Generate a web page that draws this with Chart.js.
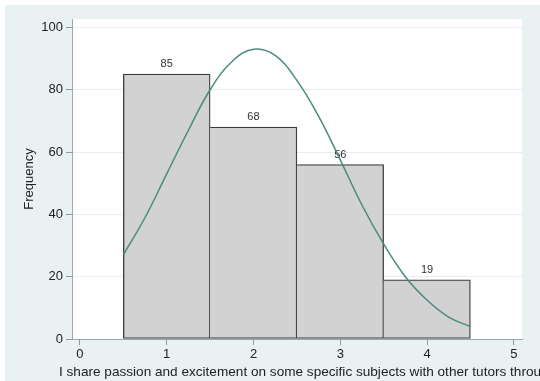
<!DOCTYPE html>
<html>
<head>
<meta charset="utf-8">
<script src="https://cdn.jsdelivr.net/npm/chart.js@4"></script>
<style>
  html, body { margin: 0; padding: 0; background: #ffffff; }
  #wrap { width: 540px; height: 381px; }
</style>
</head>
<body>
<div id="wrap"><canvas id="hist" width="540" height="381"></canvas></div>
<script>
// Response values (bin centres) and their counts
const scoreValues = [1, 2, 3, 4];
const frequencies = [85, 68, 56, 19];

// Fitted normal density, scaled to frequency
const curveX = [0.5, 0.75, 1, 1.25, 1.5, 1.75, 2, 2.25, 2.5, 2.75, 3, 3.25, 3.5, 3.75, 4, 4.25, 4.5];
const curveY = [27, 39, 53, 67, 80, 89, 93, 91, 83, 71.5, 57.5, 43, 30.5, 20, 12.5, 7, 4];

// Axis ticks and titles
const xTickValues = [0, 1, 2, 3, 4, 5];
const yTickValues = [0, 20, 40, 60, 80, 100];
const xTitle = 'I share passion and excitement on some specific subjects with other tutors through';
const yTitle = 'Frequency';

const FONT = "'Liberation Sans', Arial, sans-serif";
Chart.defaults.font.family = FONT;

const EDGE = 1.3;

// Graph region (light bluish gray) and white plot region
const backgroundPlugin = {
  id: 'regions',
  beforeDraw(chart) {
    const { ctx, chartArea: a } = chart;
    ctx.save();
    ctx.fillStyle = '#ffffff';
    ctx.fillRect(0, 0, chart.width, chart.height);
    ctx.fillStyle = '#eaf1f3';
    ctx.fillRect(5, 5, chart.width - 5, chart.height - 5);
    ctx.fillStyle = '#ffffff';
    ctx.fillRect(a.left, a.top, a.right - a.left, a.bottom - a.top);
    ctx.restore();
  }
};

// Count labels above each bar
const barLabelPlugin = {
  id: 'barLabels',
  afterDatasetDraw(chart, args) {
    if (args.index !== 0) return;
    const { ctx } = chart;
    ctx.save();
    ctx.font = '11px ' + FONT;
    ctx.fillStyle = '#333333';
    ctx.textAlign = 'center';
    ctx.textBaseline = 'alphabetic';
    args.meta.data.forEach((bar, i) => {
      ctx.fillText(String(frequencies[i]), bar.x, bar.y - 7);
    });
    ctx.restore();
  }
};

// Long x-axis title, running past the right edge
const xTitlePlugin = {
  id: 'xTitle',
  afterDraw(chart) {
    const { ctx, chartArea: a } = chart;
    ctx.save();
    ctx.font = '13.6px ' + FONT;
    ctx.fillStyle = '#222222';
    ctx.textAlign = 'left';
    ctx.textBaseline = 'alphabetic';
    ctx.fillText(xTitle, a.left - 13, a.bottom + 37);
    ctx.restore();
  }
};

new Chart(document.getElementById('hist'), {
  type: 'bar',
  data: {
    datasets: [
      {
        type: 'bar',
        data: scoreValues.map((x, i) => ({ x: x, y: frequencies[i] })),
        backgroundColor: '#d2d2d2',
        borderColor: '#3d3d3d',
        borderWidth: (ctx) => {
          const i = ctx.dataIndex;
          if (i > 0 && frequencies[i - 1] >= frequencies[i]) {
            return { left: 0, top: EDGE, right: EDGE, bottom: EDGE };
          }
          return EDGE;
        },
        borderSkipped: false,
        barPercentage: 1,
        categoryPercentage: 1,
        grouped: false,
        order: 2
      },
      {
        type: 'line',
        data: curveX.map((x, i) => ({ x: x, y: curveY[i] })),
        borderColor: '#4a8a82',
        borderWidth: 1.5,
        pointRadius: 0,
        fill: false,
        tension: 0.4,
        order: 1
      }
    ]
  },
  options: {
    responsive: false,
    animation: false,
    devicePixelRatio: 1,
    layout: { padding: { top: 19, right: 18, left: 0, bottom: 0 } },
    plugins: {
      legend: { display: false },
      tooltip: { enabled: false }
    },
    scales: {
      x: {
        type: 'linear',
        offset: false,
        min: -0.092,
        max: 5.095,
        afterBuildTicks: (s) => { s.ticks = xTickValues.map(v => ({ value: v })); },
        afterFit: (s) => { s.height = 42; },
        ticks: { color: '#222222', font: { size: 13 }, padding: 2, maxRotation: 0, autoSkip: false },
        grid: { offset: false, drawOnChartArea: false, drawTicks: true, tickLength: 6, tickColor: '#8d9ba1' },
        border: { color: '#9aa8ae', width: 1 }
      },
      y: {
        type: 'linear',
        min: 0,
        max: 102.7,
        afterBuildTicks: (s) => { s.ticks = yTickValues.map(v => ({ value: v })); },
        afterFit: (s) => { s.width = 72; },
        ticks: { color: '#222222', font: { size: 13 }, padding: 3 },
        grid: { color: '#e5eef0', lineWidth: 1, drawTicks: true, tickLength: 6, tickColor: '#8d9ba1' },
        border: { color: '#9aa8ae', width: 1 },
        title: {
          display: true,
          text: yTitle,
          color: '#222222',
          font: { size: 13 },
          padding: { top: 22, bottom: 0 }
        }
      }
    }
  },
  plugins: [backgroundPlugin, barLabelPlugin, xTitlePlugin]
});
</script>
</body>
</html>
